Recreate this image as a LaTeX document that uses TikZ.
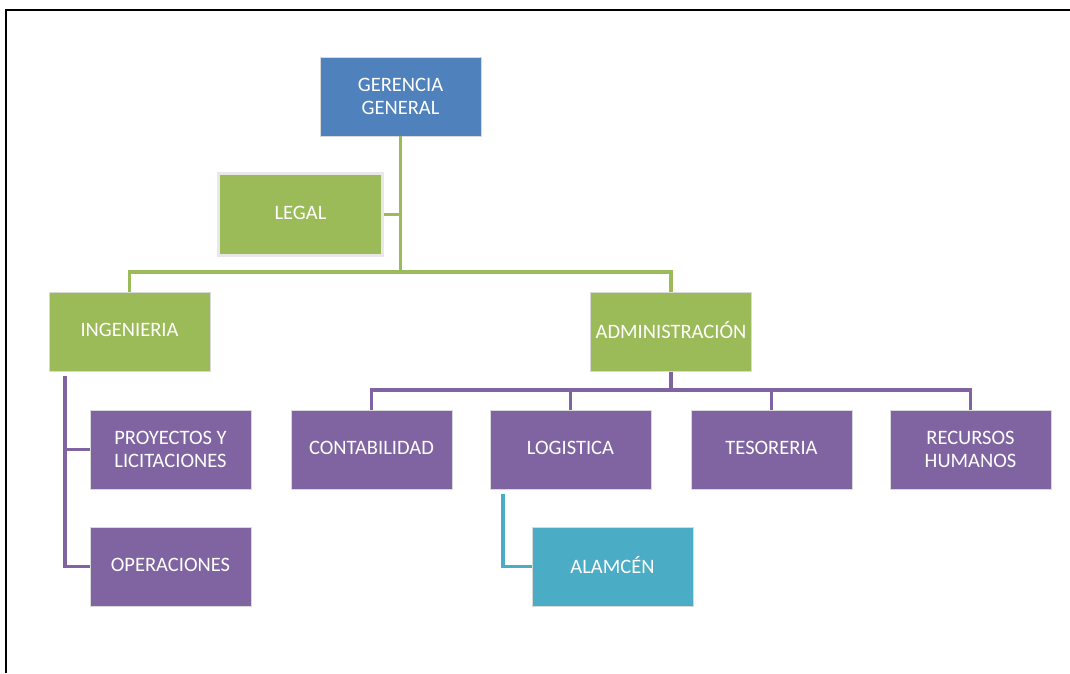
\documentclass[tikz,border=0pt]{standalone}
\usepackage{fontspec}
\setmainfont{Carlito}
\definecolor{cblue}{HTML}{4F81BD}
\definecolor{cgreen}{HTML}{9BBB59}
\definecolor{cpurple}{HTML}{8064A2}
\definecolor{ccyan}{HTML}{4BACC6}
\newcommand{\liftup}[1]{\raisebox{2pt}[\height][\depth]{#1}}
\begin{document}
\begin{tikzpicture}[x=1pt,y=-1pt,
  box/.style={rectangle, inner sep=0pt, minimum width=161pt, minimum height=79pt,
    text=white, align=center, font=\fontsize{20.5}{23}\selectfont, draw=white!85!black, line width=0.4pt},
  gbox/.style={box, fill=cgreen},
  pbox/.style={box, fill=cpurple},
  gline/.style={draw=cgreen, line width=3.6pt},
  pline/.style={draw=cpurple, line width=3.6pt},
  cline/.style={draw=ccyan, line width=3.6pt},
]
\useasboundingbox (0,0) rectangle (1070,673);
\fill[white] (0,0) rectangle (1070,673);
\draw[black, line width=2pt] (6.3,673) -- (6.3,10.3) -- (1070,10.3);

\node[box, fill=cblue] (gg) at (400.5,96.5) {GERENCIA\\GENERAL};
\node[gbox, draw=black!9, line width=3pt, minimum width=164pt, minimum height=82pt] (legal) at (300.5,214.5) {\liftup{LEGAL}};
\node[gbox] (ing) at (129.5,332) {\liftup{INGENIERIA}};
\node[gbox] (adm) at (671,332) {\liftup{ADMINISTRACIÓN}};
\node[pbox] (pyl) at (170.5,449.5) {PROYECTOS Y\\LICITACIONES};
\node[pbox] (ops) at (170.5,566.5) {\liftup{OPERACIONES}};
\node[pbox] (cont) at (371.5,449.5) {\liftup{CONTABILIDAD}};
\node[pbox] (log) at (570.5,449.5) {\liftup{LOGISTICA}};
\node[pbox] (tes) at (771.5,449.5) {\liftup{TESORERIA}};
\node[pbox] (rh) at (970.5,449.5) {RECURSOS\\HUMANOS};
\node[box, fill=ccyan] (alm) at (612.5,566.5) {\liftup{ALAMCÉN}};

% green connectors
\coordinate (j1) at (400.5,272);
\draw[gline] (gg.south) -- (j1);
\draw[gline] (legal.east) -- (legal.east -| gg.south);
\draw[gline] (ing.north) |- (j1) -| (adm.north);

% purple connectors
\coordinate (j2) at (671,390);
\draw[pline] (adm.south) -- (j2);
\draw[pline] (cont.north) |- (j2) -| (rh.north);
\draw[pline] (log.north) -- (log.north |- j2);
\draw[pline] (tes.north) -- (tes.north |- j2);

\coordinate (it) at (65,376);
\draw[pline] (it) |- (ops.west);
\draw[pline] (it |- pyl.west) -- (pyl.west);

% cyan connector
\coordinate (lb) at (503,494);
\draw[cline] (lb) |- (alm.west);
\end{tikzpicture}
\end{document}
